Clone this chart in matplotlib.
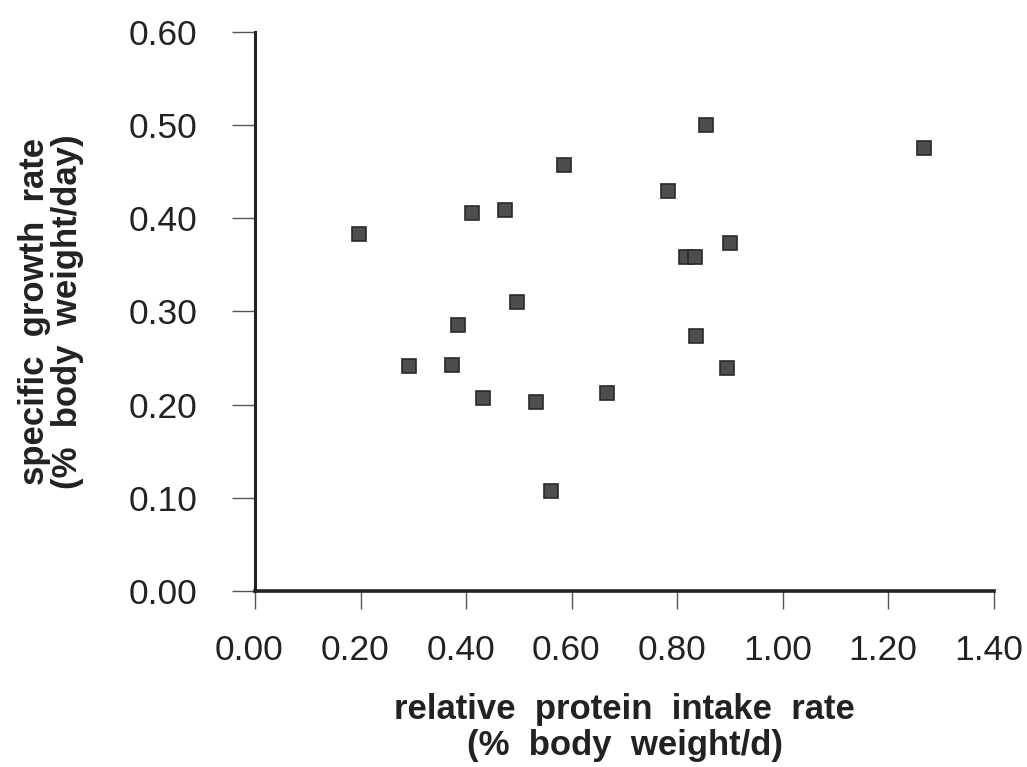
import matplotlib.pyplot as plt
import matplotlib.transforms as mtransforms
import numpy as np

# relative protein intake rate (% body weight/d)
protein_intake = [0.197, 0.292, 0.374, 0.385, 0.411, 0.473, 0.432, 0.496, 0.532, 0.561,
                  0.585, 0.667, 0.782, 0.817, 0.834, 0.836, 0.855, 0.894, 0.900, 1.268]
# specific growth rate (% body weight/day)
growth_rate = [0.383, 0.242, 0.243, 0.285, 0.406, 0.409, 0.207, 0.310, 0.203, 0.107,
               0.457, 0.212, 0.429, 0.359, 0.359, 0.274, 0.500, 0.239, 0.374, 0.475]

x_ticks = [0.0, 0.2, 0.4, 0.6, 0.8, 1.0, 1.2, 1.4]
y_ticks = [0.0, 0.1, 0.2, 0.3, 0.4, 0.5, 0.6]

plt.rcParams["font.family"] = ["Liberation Sans", "DejaVu Sans"]

fig = plt.figure(figsize=(10.27, 7.67), dpi=100)
ax = fig.add_axes([0.2483, 0.2295, 0.7196, 0.7288])

ax.plot(protein_intake, growth_rate, linestyle="none", marker="s", markersize=10.5,
        markerfacecolor="#4d4d4d", markeredgecolor="#2a2a2a", markeredgewidth=1.2)

ax.set_xlim(0, 1.4)
ax.set_ylim(0, 0.6)
ax.set_xticks(x_ticks)
ax.set_yticks(y_ticks)
ax.set_xticklabels(["{:.2f}".format(v) for v in x_ticks])
ax.set_yticklabels(["{:.2f}".format(v) for v in y_ticks])

ax.spines["top"].set_visible(False)
ax.spines["right"].set_visible(False)
ax.spines["left"].set_linewidth(2.2)
ax.spines["bottom"].set_linewidth(2.6)
ax.spines["left"].set_color("#222222")
ax.spines["bottom"].set_color("#222222")

ax.tick_params(axis="x", direction="out", length=13, width=1.0, color="#555555",
               pad=18, labelsize=25.5, labelcolor="#222222")
ax.tick_params(axis="y", direction="out", length=16.5, width=1.0, color="#555555",
               pad=25, labelsize=25.5, labelcolor="#222222")

# x tick labels sit a little left of their ticks in the original
shift = mtransforms.ScaledTranslation(-4 / 72, 0, fig.dpi_scale_trans)
for lbl in ax.get_xticklabels():
    lbl.set_transform(lbl.get_transform() + shift)

ax.set_xlabel("relative  protein  intake  rate\n(%  body  weight/d)", fontsize=25,
              fontweight="bold", color="#222222", linespacing=1.1)
ax.set_ylabel("specific  growth  rate\n(%  body  weight/day)", fontsize=25,
              fontweight="bold", color="#222222", linespacing=1.0)
ax.xaxis.set_label_coords(0.5, -0.183)
ax.yaxis.set_label_coords(-0.232, 0.5)

fig.savefig("out.png", dpi=100)
